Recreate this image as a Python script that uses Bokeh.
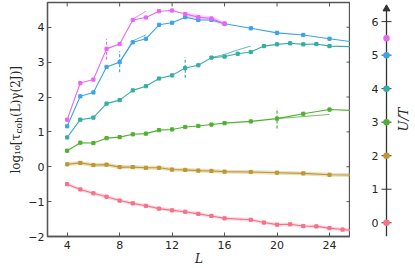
import math
from bokeh.plotting import figure
from bokeh.models import Range1d, FixedTicker
from bokeh.layouts import row
from bokeh.core.properties import value
from bokeh.embed import file_html
from bokeh.resources import INLINE

# ---------------- data ----------------
x_ticks = [4, 8, 12, 16, 20, 24]
y_ticks = [-2, -1, 0, 1, 2, 3, 4]
y_tick_labels = {-2: "\u22122", -1: "\u22121", 0: "0", 1: "1", 2: "2", 3: "3", 4: "4"}

L_pink = [4, 5, 6, 7, 8, 9, 10, 11, 12, 13, 14, 15, 16, 18, 19, 20, 21, 22, 23, 24, 25, 26]
pink = [-0.50, -0.65, -0.76, -0.86, -0.97, -1.05, -1.12, -1.20, -1.25, -1.29, -1.35, -1.41,
        -1.48, -1.52, -1.60, -1.66, -1.65, -1.70, -1.71, -1.76, -1.80, -1.83]

L_even = [4, 5, 6, 7, 8, 9, 10, 11, 12, 13, 14, 15, 16, 18, 20, 22, 24, 26]
gold = [0.07, 0.11, 0.05, 0.06, -0.01, -0.01, -0.03, -0.03, -0.08, -0.09, -0.11, -0.12,
        -0.14, -0.15, -0.17, -0.19, -0.23, -0.24]
green = [0.46, 0.69, 0.68, 0.82, 0.85, 0.93, 0.95, 1.05, 1.07, 1.14, 1.17, 1.21, 1.25,
         1.30, 1.38, 1.52, 1.64, 1.61]
green_err = [0, 0, 0, 0, 0, 0, 0, 0, 0, 0, 0, 0, 0, 0.03, 0.05, 0.05, 0.05, 0]
blue = [1.16, 2.02, 2.13, 2.86, 3.00, 3.57, 3.67, 4.07, 4.13, 4.29, 4.21, 4.21, 4.10,
        3.97, 3.84, 3.78, 3.67, 3.57]
blue_err = [0, 0, 0, 0, 0, 0, 0, 0, 0, 0.04, 0.04, 0.04, 0.04, 0.05, 0.05, 0.05, 0.05, 0]

L_teal = [4, 5, 6, 7, 8, 9, 10, 11, 12, 13, 14, 15, 16, 17, 18, 19, 20, 21, 22, 23, 24, 26]
teal = [0.84, 1.35, 1.41, 1.81, 1.91, 2.19, 2.31, 2.53, 2.62, 2.83, 2.91, 3.13, 3.16,
        3.24, 3.29, 3.46, 3.51, 3.54, 3.51, 3.52, 3.46, 3.44]
teal_err = [0, 0, 0, 0, 0, 0, 0, 0, 0, 0, 0, 0, 0, 0.05, 0.05, 0.04, 0.05, 0.05, 0.05,
            0.05, 0.05, 0]

L_mag = [4, 5, 6, 7, 8, 9, 10, 11, 12, 13, 14, 15, 16]
mag = [1.35, 2.40, 2.50, 3.38, 3.52, 4.21, 4.28, 4.46, 4.48, 4.38, 4.29, 4.25, 4.10]
mag_err = [0, 0, 0, 0, 0, 0, 0, 0, 0.05, 0.03, 0.05, 0.05, 0.07]

# secondary (thin) curves
L_mag_thin = [9, 10]
mag_thin = [4.23, 4.46]
L_blue_thin = [8, 9, 10]
blue_thin = [3.00, 3.61, 3.78]
L_teal_thin = [15, 16, 17, 18]
teal_thin = [3.13, 3.22, 3.35, 3.46]
L_green_thin = [20, 22, 24]
green_thin = [1.38, 1.44, 1.50]

# dashed error bars
dash_L = [7, 8, 13, 20]
dash_lo = [3.07, 2.71, 2.55, 1.10]
dash_hi = [3.67, 3.31, 3.14, 1.68]

# U/T legend axis
ut_ticks = [0, 1, 2, 3, 4, 5, 6]
ut_values = [0, 2, 3, 4, 5, 5.5]

PINK, GOLD, GREEN, TEAL, BLUE, MAG = "#f77189", "#bb9832", "#50b131", "#36ada4", "#3ba3ec", "#e866f4"
ut_colors = [PINK, GOLD, GREEN, TEAL, BLUE, MAG]
dash_colors = [MAG, BLUE, TEAL, GREEN]

# ---------------- layout constants ----------------
FW, FH = 303, 234
BT, BB = 2, 32
XMIN, XMAX = 2.5, 25.6
YMIN, YMAX = -2.0, 4.71
AX = "#555555"
TXT = "#262626"
ppx = FW / (XMAX - XMIN)
ppy = FH / (YMAX - YMIN)

common = dict(output_backend="svg", toolbar_location=None, min_border_top=BT,
              min_border_bottom=BB)

# ---- left strip with the y-axis label ----
W0 = 25
p0 = figure(frame_width=W0, frame_height=FH, x_range=Range1d(0, W0), y_range=Range1d(0, FH),
            x_axis_location=None, y_axis_location=None, min_border_left=0, min_border_right=0,
            **common)
p0.grid.visible = False
p0.outline_line_color = None
start = FH / 2 - 54
w1, w2 = 40, 16.5
p0.text(x=[15], y=[start], text=["log\u2081\u2080[\u03c4"], angle=math.pi / 2, text_align="left",
        text_baseline="alphabetic", text_font=value("DejaVu Serif"), text_font_size="12px",
        text_color=TXT)
p0.text(x=[18], y=[start + w1], text=["coh"], angle=math.pi / 2, text_align="left",
        text_baseline="alphabetic", text_font=value("DejaVu Serif"), text_font_size="9px",
        text_color=TXT)
p0.text(x=[15], y=[start + w1 + w2], text=["(L)\u03b3(2J)]"], angle=math.pi / 2,
        text_align="left", text_baseline="alphabetic", text_font=value("DejaVu Serif"),
        text_font_size="12px", text_color=TXT)

# ---- main plot ----
p = figure(frame_width=FW, frame_height=FH, x_range=Range1d(XMIN, XMAX),
           y_range=Range1d(YMIN, YMAX), min_border_left=44 - W0, min_border_right=0, **common)
p.grid.visible = False
p.outline_line_color = AX
p.outline_line_width = 1.3

for ax in (p.xaxis, p.yaxis):
    ax.axis_line_color = AX
    ax.axis_line_width = 1.3
    ax.major_tick_line_color = AX
    ax.major_tick_in = 4
    ax.major_tick_out = 0
    ax.minor_tick_in = 0
    ax.minor_tick_out = 0
    ax.major_label_text_font = "DejaVu Sans"
    ax.major_label_text_font_size = "11px"
    ax.major_label_text_color = TXT
p.xaxis.major_label_standoff = 4
p.yaxis.major_label_standoff = 3
p.xaxis.ticker = FixedTicker(ticks=x_ticks)
p.yaxis.ticker = FixedTicker(ticks=y_ticks)
p.yaxis.major_label_overrides = y_tick_labels
p.xaxis.axis_label = "L"
p.xaxis.axis_label_standoff = 0
p.xaxis.axis_label_text_font = "DejaVu Serif"
p.xaxis.axis_label_text_font_style = "italic"
p.xaxis.axis_label_text_font_size = "12px"
p.xaxis.axis_label_text_color = TXT

# mirrored ticks on top and right borders
p.segment(x0=x_ticks, y0=[YMAX] * len(x_ticks), x1=x_ticks,
          y1=[YMAX - 4 / ppy] * len(x_ticks), line_color=AX, line_width=1)
p.segment(x0=[XMAX] * len(y_ticks), y0=y_ticks, x1=[XMAX - 4 / ppx] * len(y_ticks),
          y1=y_ticks, line_color=AX, line_width=1)

# translucent bands
p.line(L_pink, pink, line_color=PINK, line_width=3.5, line_alpha=0.25)
p.line(L_even, gold, line_color=GOLD, line_width=4, line_alpha=0.3)
p.line(L_mag[9:], mag[9:], line_color=MAG, line_width=4.5, line_alpha=0.3)


def series(Ls, vals, color, err=None):
    p.line(Ls, vals, line_color=color, line_width=1.1)
    p.scatter(Ls, vals, size=3.2, marker="square", color=color)
    if err:
        xs = [l for l, e in zip(Ls, err) if e > 0]
        lo = [v - e for v, e in zip(vals, err) if e > 0]
        hi = [v + e for v, e in zip(vals, err) if e > 0]
        p.segment(x0=xs, y0=lo, x1=xs, y1=hi, line_color=color, line_width=1.5)


series(L_pink, pink, PINK)
series(L_even, gold, GOLD)
series(L_even, green, GREEN, green_err)
series(L_teal, teal, TEAL, teal_err)
series(L_even, blue, BLUE, blue_err)
series(L_mag, mag, MAG, mag_err)

for Ls, vals, c in ((L_mag_thin, mag_thin, MAG), (L_blue_thin, blue_thin, BLUE),
                    (L_teal_thin, teal_thin, TEAL), (L_green_thin, green_thin, GREEN)):
    p.line(Ls, vals, line_color=c, line_width=1, line_alpha=0.8)

p.segment(x0=dash_L, y0=dash_lo, x1=dash_L, y1=dash_hi, line_color=dash_colors,
          line_width=1.2, line_dash="3 2")

# ---------------- U/T legend axis ----------------
UMIN, UMAX = -0.41, 6.57
W2 = 415 - 44 - FW - 1
p2 = figure(frame_width=W2, frame_height=FH, x_range=Range1d(0, W2), y_range=Range1d(UMIN, UMAX),
            x_axis_location=None, y_axis_location=None, min_border_left=0, min_border_right=0,
            **common)
p2.grid.visible = False
p2.outline_line_color = None
AXX = 36
p2.segment(x0=[AXX], y0=[UMIN], x1=[AXX], y1=[6.36], line_color="#333333", line_width=1.3)
p2.scatter(x=[AXX], y=[6.38], marker="triangle", size=7, color="#333333")
p2.scatter(x=[AXX] * len(ut_ticks), y=ut_ticks, marker="dash", size=10, line_color="#333333",
           line_width=1)
p2.scatter(x=[AXX] * len(ut_values), y=ut_values, size=6.5, color=ut_colors, line_color=None)
p2.text(x=[AXX - 8] * len(ut_ticks), y=ut_ticks, text=[str(t) for t in ut_ticks],
        text_align="right", text_baseline="middle", text_font=value("DejaVu Sans"),
        text_font_size="11px", text_color=TXT)
p2.text(x=[53], y=[(UMIN + UMAX) / 2], text=["U/T"], angle=math.pi / 2, text_align="center",
        text_baseline="middle", text_font=value("DejaVu Serif"), text_font_style="italic",
        text_font_size="13px", text_color=TXT)

layout = row(p0, p, p2)
open("out.html", "w").write(file_html(layout, INLINE))
